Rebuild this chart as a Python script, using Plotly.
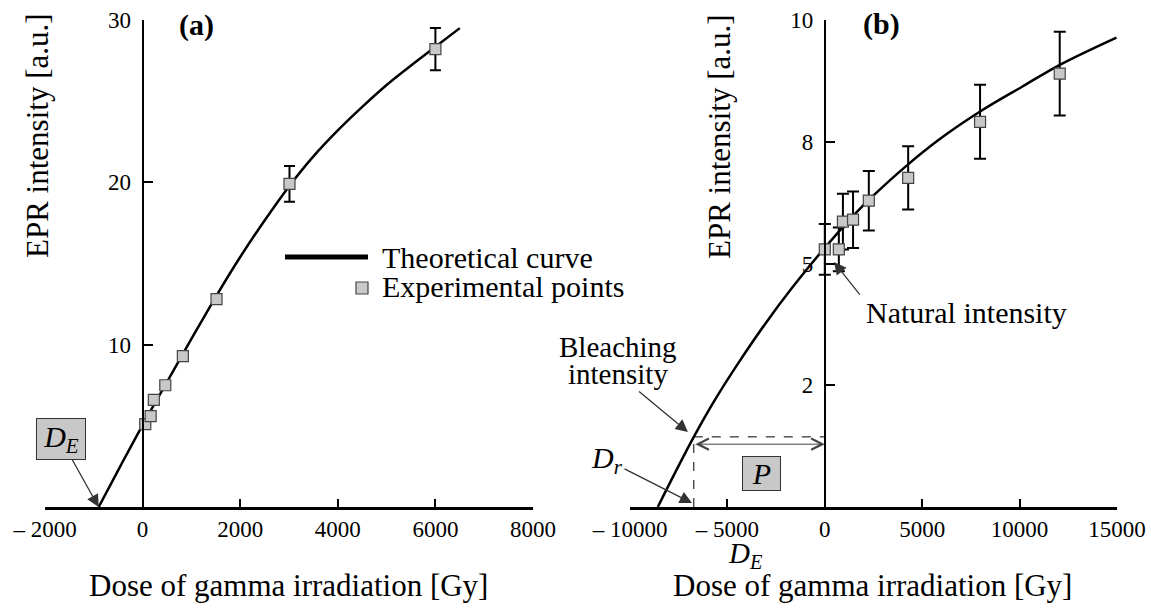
import plotly.graph_objects as go

# ---------------- data ----------------
# panel (a)
curve_a_dose = [-900, -450, 0, 500, 1000, 1500, 2000, 2500, 3000, 3500, 4000, 4500, 5000, 5500, 6000, 6500]
curve_a_int = [0.0, 2.55, 5.05, 7.7, 10.35, 12.95, 15.4, 17.65, 19.75, 21.6, 23.2, 24.65, 26.0, 27.2, 28.35, 29.5]
exp_a_dose = [55, 165, 230, 465, 825, 1515, 3010, 6000]
exp_a_int = [5.1, 5.6, 6.6, 7.5, 9.3, 12.8, 19.9, 28.2]
exp_a_err = [None, None, None, None, None, None, 1.1, 1.3]
xa_tickvals = [-2000, 0, 2000, 4000, 6000, 8000]
xa_ticktext = ["\u2013 2000", "0", "2000", "4000", "6000", "8000"]
ya_tickvals = [10, 20, 30]
ya_ticktext = ["10", "20", "30"]
de_a = -900  # equivalent dose (a)

# panel (b)
curve_b_dose = [-8573, -7664, -6725, -5611, -4415, -3044, -1679, -221, 1576, 2428, 4143, 5852, 7972, 10128, 12064, 14974]
curve_b_int = [0.0, 0.72, 1.44, 2.22, 2.97, 3.77, 4.50, 5.22, 6.03, 6.37, 6.99, 7.54, 8.12, 8.63, 9.08, 9.64]
exp_b_dose = [0, 720, 930, 1450, 2260, 4280, 7970, 12060]
exp_b_int = [5.29, 5.29, 5.86, 5.90, 6.29, 6.76, 7.91, 8.90]
exp_b_err = [0.52, 0.45, 0.57, 0.58, 0.61, 0.65, 0.76, 0.86]
xb_tickvals = [-10000, -5000, 0, 5000, 10000, 15000]
xb_ticktext = ["\u2013 10000", "\u2013 5000", "0", "5000", "10000", "15000"]
yb_tickvals = [2.5, 5, 7.5, 10]
yb_ticktext = ["2", "5", "8", "10"]
bleach_dose = -6725
bleach_int = 1.44
de_b = -8573

# ---------------- layout helpers ----------------
W, H = 1151, 608
FONT = "Liberation Serif"


def px(x):
    return x / W


def py(y):
    return 1 - y / H


xa_range = [-2000, 8000]
xb_range = [-10000, 15000]
xa_dom = [px(45), px(533)]
xb_dom = [px(630), px(1117)]
y_dom = [py(507), py(20)]


def zero_pos(dom, rng):
    return dom[0] + (0 - rng[0]) / (rng[1] - rng[0]) * (dom[1] - dom[0])


fig = go.Figure()

# panel (a)
fig.add_trace(go.Scatter(x=curve_a_dose, y=curve_a_int, mode="lines",
                         line=dict(color="black", width=2.5, shape="spline", smoothing=1.0),
                         xaxis="x", yaxis="y", showlegend=False, hoverinfo="skip"))
fig.add_trace(go.Scatter(x=exp_a_dose, y=exp_a_int, mode="markers",
                         marker=dict(symbol="square", size=11, color="#c8c8c8",
                                     line=dict(color="#444444", width=1.2)),
                         error_y=dict(type="data", array=exp_a_err, color="black",
                                      thickness=2, width=5.5),
                         xaxis="x", yaxis="y", showlegend=False, cliponaxis=False))
# panel (b)
fig.add_trace(go.Scatter(x=curve_b_dose, y=curve_b_int, mode="lines",
                         line=dict(color="black", width=2.5, shape="spline", smoothing=1.0),
                         xaxis="x2", yaxis="y2", showlegend=False, hoverinfo="skip"))
fig.add_trace(go.Scatter(x=exp_b_dose, y=exp_b_int, mode="markers",
                         marker=dict(symbol="square", size=11, color="#c8c8c8",
                                     line=dict(color="#444444", width=1.2)),
                         error_y=dict(type="data", array=exp_b_err, color="black",
                                      thickness=2, width=6),
                         xaxis="x2", yaxis="y2", showlegend=False, cliponaxis=False))

tickfont = dict(family=FONT, size=23, color="black")
common_x = dict(showline=True, linecolor="black", linewidth=2.5, ticks="inside", ticklen=8,
                tickwidth=1.5, tickcolor="black", tickfont=tickfont, showgrid=False,
                zeroline=False, fixedrange=True, automargin=False, ticklabeloverflow="allow")
common_y = dict(showline=True, linecolor="black", linewidth=2, ticks="inside", ticklen=9,
                tickwidth=1.5, tickcolor="black", tickfont=tickfont, showgrid=False,
                zeroline=False, fixedrange=True, anchor="free", ticklabelstandoff=6,
                automargin=False)

fig.update_layout(
    width=W, height=H, margin=dict(l=0, r=0, t=0, b=0, autoexpand=False),
    paper_bgcolor="white", plot_bgcolor="rgba(0,0,0,0)",
    showlegend=False,
    xaxis=dict(domain=xa_dom, range=xa_range, anchor="y", tickvals=xa_tickvals,
               ticktext=xa_ticktext, **common_x),
    yaxis=dict(domain=y_dom, range=[0, 30], position=zero_pos(xa_dom, xa_range),
               tickvals=ya_tickvals, ticktext=ya_ticktext, **common_y),
    xaxis2=dict(domain=xb_dom, range=xb_range, anchor="y2", tickvals=xb_tickvals,
                ticktext=xb_ticktext, **common_x),
    yaxis2=dict(domain=y_dom, range=[0, 10], position=zero_pos(xb_dom, xb_range),
                tickvals=yb_tickvals, ticktext=yb_ticktext, **common_y),
)

TF = dict(family=FONT, size=30, color="black")
BF = dict(family=FONT, size=31, color="black")
SF = dict(family=FONT, size=29, color="black")
AC = "#333333"
ann = []


def text(x, y, s, **kw):
    d = dict(x=px(x), y=py(y), xref="paper", yref="paper", text=s, showarrow=False,
             font=kw.pop("font", TF), xanchor=kw.pop("xanchor", "center"),
             yanchor=kw.pop("yanchor", "middle"))
    d.update(kw)
    ann.append(d)


def labelled_arrow(xr, yr, x, y, ax, ay, s, **kw):
    """Text centred at pixel offset (ax, ay) from the arrow tip (x, y)."""
    d = dict(x=x, y=y, xref=xr, yref=yr, ax=ax, ay=ay, text=s, showarrow=True,
             arrowhead=2, arrowsize=1.9, arrowwidth=1.3, arrowcolor=AC,
             font=kw.pop("font", TF))
    d.update(kw)
    ann.append(d)


def pointer(xr, yr, x, y, ax, ay):
    ann.append(dict(x=x, y=y, xref=xr, yref=yr, ax=ax, ay=ay, text="", showarrow=True,
                    arrowhead=2, arrowsize=1.9, arrowwidth=1.3, arrowcolor=AC))


# panel labels
text(196, 25, "<b>(a)</b>")
text(881, 24, "<b>(b)</b>")
# axis titles
text(37, 136, "EPR intensity [a.u.]", textangle=-90, font=BF)
text(720, 137, "EPR intensity [a.u.]", textangle=-90, font=BF)
text(288, 585, "Dose of gamma irradiation [Gy]", font=BF)
text(872, 585, "Dose of gamma irradiation [Gy]", font=BF)
# legend texts
text(380, 257, "Theoretical curve", xanchor="left")
text(380, 286, "Experimental points", xanchor="left")
# D_E box (a) with its arrow to the dose axis
labelled_arrow("x", "y", de_a, 0, -38, -68, "<i>D</i><sub><i>E</i></sub>",
               bgcolor="#c8c8c8", bordercolor="#333333", borderwidth=1, borderpad=2,
               width=44, height=36)
# P box
text(761, 473, "<i>P</i>", bgcolor="#c8c8c8", bordercolor="#333333",
     borderwidth=1, borderpad=1, width=35, height=31)
# labels in (b)
text(966, 312, "Natural intensity")
pointer("x2", "y2", 472, 5.03, 27, 34)
text(618, 347, "Bleaching", font=SF)
labelled_arrow("x2", "y2", bleach_dose - 300, bleach_int + 0.1, -70, -58, "intensity", font=SF)
labelled_arrow("x2", "y2", bleach_dose - 90, 0.08, -85, -43, "<i>D</i><sub><i>r</i></sub>")
text(745, 555, "<i>D</i><sub><i>E</i></sub>", font=SF)

# double arrows
for (x0, x1, yv) in [(bleach_dose, 0, bleach_int - 0.15), (de_b, 0, -0.72)]:
    ann.append(dict(x=x1, y=yv, ax=x0, ay=yv, xref="x2", yref="y2", axref="x2", ayref="y2",
                    text="", showarrow=True, arrowside="end+start", arrowhead=5,
                    startarrowhead=5, arrowsize=2.2, startarrowsize=2.2, arrowwidth=1,
                    arrowcolor="#444444"))

fig.update_layout(annotations=ann)

# shapes: dashed bleaching lines, legend samples
shapes = [
    dict(type="line", xref="x2", yref="y2", x0=bleach_dose, x1=0, y0=bleach_int, y1=bleach_int,
         line=dict(color="black", width=1, dash="dash")),
    dict(type="line", xref="x2", yref="y2", x0=bleach_dose, x1=bleach_dose, y0=0, y1=bleach_int,
         line=dict(color="black", width=1, dash="dash")),
    dict(type="line", xref="paper", yref="paper", x0=px(285), x1=px(368), y0=py(257), y1=py(257),
         line=dict(color="black", width=5)),
    dict(type="rect", xref="paper", yref="paper", x0=px(356), x1=px(368), y0=py(294), y1=py(282),
         fillcolor="#c8c8c8", line=dict(color="#444444", width=1.2)),
]
fig.update_layout(shapes=shapes)

fig.write_html("out.html", config={"displayModeBar": False},
               post_script="document.body.style.margin='0';document.body.style.overflow='hidden';")
